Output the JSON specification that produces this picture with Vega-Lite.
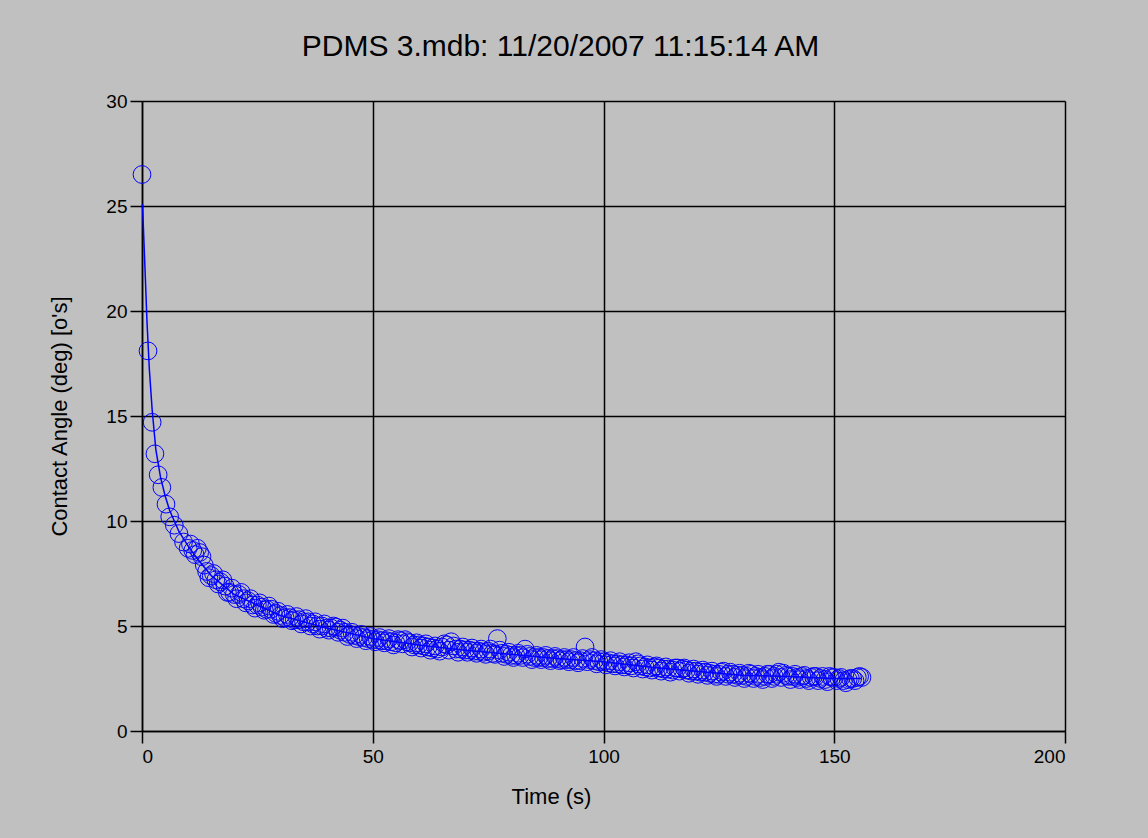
{
  "$schema": "https://vega.github.io/schema/vega-lite/v6.json",
  "width": 923,
  "height": 630,
  "autosize": "none",
  "padding": {"left": 142, "top": 101, "right": 83, "bottom": 107},
  "background": "#c0c0c0",
  "config": {
    "view": {"stroke": null, "fill": "#c0c0c0"},
    "font": "Liberation Sans",
    "axis": {
      "grid": true,
      "gridColor": "#000000",
      "gridWidth": 1.5,
      "gridOpacity": 1,
      "domainColor": "#000000",
      "domainWidth": 1.5,
      "tickColor": "#000000",
      "tickWidth": 1.5,
      "tickSize": 12,
      "labelFont": "Liberation Sans",
      "labelFontSize": 19,
      "labelColor": "#000000",
      "titleFont": "Liberation Sans",
      "titleFontSize": 22,
      "titleFontWeight": "normal",
      "titleColor": "#000000"
    }
  },
  "title": {
    "text": "PDMS 3.mdb: 11/20/2007 11:15:14 AM",
    "font": "Liberation Sans",
    "fontSize": 30,
    "fontWeight": "normal",
    "color": "#000000",
    "anchor": "middle",
    "dx": -43,
    "offset": 30
  },
  "datasets": {
    "pts": [
      {"t":0,"a":26.5},{"t":1.3,"a":18.1},{"t":2.2,"a":14.7},{"t":2.8,"a":13.2},{"t":3.5,"a":12.2},{"t":4.3,"a":11.6},{"t":5.2,"a":10.8},{"t":6,"a":10.2},{"t":7,"a":9.8},{"t":8,"a":9.4},{"t":9,"a":9.0},{"t":10,"a":8.7},{"t":11,"a":8.6},{"t":12,"a":8.7},{"t":13,"a":8.3},{"t":14,"a":7.6},{"t":15,"a":7.4},{"t":16,"a":7.2},{"t":17,"a":7.1},{"t":18,"a":6.9},{"t":19,"a":6.6},{"t":20,"a":6.5},{"t":21,"a":6.5},{"t":22,"a":6.3},{"t":23,"a":6.2},{"t":24,"a":6.0},{"t":25,"a":6.0},{"t":26,"a":5.9},{"t":27,"a":5.8},{"t":28,"a":5.8},{"t":29,"a":5.6},{"t":30,"a":5.5},{"t":31,"a":5.4},{"t":32,"a":5.4},{"t":33,"a":5.3},{"t":34,"a":5.3},{"t":35,"a":5.2},{"t":36,"a":5.2},{"t":37,"a":5.1},{"t":38,"a":5.0},{"t":39,"a":5.0},{"t":40,"a":4.9},{"t":41,"a":4.9},{"t":42,"a":4.95},{"t":43,"a":4.8},{"t":44,"a":4.7},{"t":45,"a":4.6},{"t":46,"a":4.55},{"t":47,"a":4.5},{"t":48,"a":4.45},{"t":49,"a":4.4},{"t":50,"a":4.35},{"t":51,"a":4.35},{"t":52,"a":4.3},{"t":53,"a":4.3},{"t":54,"a":4.25},{"t":55,"a":4.2},{"t":56,"a":4.3},{"t":57,"a":4.35},{"t":58,"a":4.2},{"t":59,"a":4.1},{"t":60,"a":4.1},{"t":61,"a":4.05},{"t":62,"a":4.0},{"t":63,"a":3.95},{"t":64,"a":3.9},{"t":65,"a":4.0},{"t":66,"a":4.1},{"t":67,"a":4.25},{"t":68,"a":3.9},{"t":69,"a":3.9},{"t":70,"a":3.85},{"t":71,"a":3.85},{"t":72,"a":3.8},{"t":73,"a":3.8},{"t":74,"a":3.75},{"t":75,"a":3.8},{"t":76,"a":3.7},{"t":77,"a":4.4},{"t":78,"a":3.7},{"t":79,"a":3.65},{"t":80,"a":3.6},{"t":81,"a":3.6},{"t":82,"a":3.6},{"t":83,"a":3.9},{"t":84,"a":3.55},{"t":85,"a":3.5},{"t":86,"a":3.5},{"t":87,"a":3.5},{"t":88,"a":3.45},{"t":89,"a":3.45},{"t":90,"a":3.45},{"t":91,"a":3.4},{"t":92,"a":3.4},{"t":93,"a":3.4},{"t":94,"a":3.35},{"t":95,"a":3.35},{"t":96,"a":4.0},{"t":97,"a":3.4},{"t":98,"a":3.35},{"t":99,"a":3.3},{"t":100,"a":3.3},{"t":101,"a":3.25},{"t":102,"a":3.2},{"t":103,"a":3.2},{"t":104,"a":3.15},{"t":105,"a":3.15},{"t":106,"a":3.1},{"t":107,"a":3.3},{"t":108,"a":3.1},{"t":109,"a":3.05},{"t":110,"a":3.0},{"t":111,"a":3.05},{"t":112,"a":3.0},{"t":113,"a":2.95},{"t":114,"a":2.95},{"t":115,"a":2.9},{"t":116,"a":3.0},{"t":117,"a":2.95},{"t":118,"a":2.9},{"t":119,"a":2.85},{"t":120,"a":2.85},{"t":121,"a":2.8},{"t":122,"a":2.8},{"t":123,"a":2.75},{"t":124,"a":2.7},{"t":125,"a":2.7},{"t":126,"a":2.85},{"t":127,"a":2.7},{"t":128,"a":2.7},{"t":129,"a":2.65},{"t":130,"a":2.65},{"t":131,"a":2.6},{"t":132,"a":2.7},{"t":133,"a":2.6},{"t":134,"a":2.55},{"t":135,"a":2.6},{"t":136,"a":2.7},{"t":137,"a":2.6},{"t":138,"a":2.8},{"t":139,"a":2.75},{"t":140,"a":2.6},{"t":141,"a":2.6},{"t":142,"a":2.55},{"t":143,"a":2.6},{"t":144,"a":2.5},{"t":145,"a":2.55},{"t":146,"a":2.6},{"t":147,"a":2.5},{"t":148,"a":2.45},{"t":149,"a":2.6},{"t":150,"a":2.55},{"t":151,"a":2.5},{"t":152,"a":2.4},{"t":153,"a":2.45},{"t":154,"a":2.5},{"t":155,"a":2.55},{"t":156,"a":2.55},
      {"t":10.5,"a":8.9},{"t":11.5,"a":8.4},{"t":12.5,"a":8.5},{"t":13.5,"a":7.9},{"t":14.5,"a":7.3},{"t":15.5,"a":7.5},{"t":16.5,"a":7.0},{"t":17.5,"a":7.2},{"t":18.5,"a":6.6},{"t":19.5,"a":6.8},{"t":20.5,"a":6.3},{"t":21.5,"a":6.6},{"t":22.5,"a":6.1},{"t":23.5,"a":6.3},{"t":24.5,"a":5.85},{"t":25.5,"a":6.1},{"t":26.5,"a":5.75},{"t":27.5,"a":5.95},{"t":28.5,"a":5.55},{"t":29.5,"a":5.7},{"t":30.5,"a":5.35},{"t":31.5,"a":5.55},{"t":32.5,"a":5.25},{"t":33.5,"a":5.45},{"t":34.5,"a":5.1},{"t":35.5,"a":5.35},{"t":36.5,"a":5.0},{"t":37.5,"a":5.2},{"t":38.5,"a":4.85},{"t":39.5,"a":5.1},{"t":40.5,"a":4.8},{"t":41.5,"a":5.0},{"t":42.5,"a":4.7},{"t":43.5,"a":4.9},{"t":44.5,"a":4.5},{"t":45.5,"a":4.7},{"t":46.5,"a":4.4},{"t":47.5,"a":4.6},{"t":48.5,"a":4.3},{"t":49.5,"a":4.5},{"t":50.5,"a":4.25},{"t":51.5,"a":4.45},{"t":52.5,"a":4.2},{"t":53.5,"a":4.4},{"t":54.5,"a":4.1},{"t":55.5,"a":4.35},{"t":56.5,"a":4.15},{"t":57.5,"a":4.25},{"t":58.5,"a":4.0},{"t":59.5,"a":4.2},{"t":60.5,"a":3.95},{"t":61.5,"a":4.15},{"t":62.5,"a":3.85},{"t":63.5,"a":4.05},{"t":64.5,"a":3.8},{"t":65.5,"a":4.15},{"t":66.5,"a":3.85},{"t":67.5,"a":4.05},{"t":68.5,"a":3.75},{"t":69.5,"a":4.0},{"t":70.5,"a":3.75},{"t":71.5,"a":3.95},{"t":72.5,"a":3.7},{"t":73.5,"a":3.9},{"t":74.5,"a":3.65},{"t":75.5,"a":3.9},{"t":76.5,"a":3.65},{"t":77.5,"a":3.85},{"t":78.5,"a":3.55},{"t":79.5,"a":3.75},{"t":80.5,"a":3.5},{"t":81.5,"a":3.7},{"t":82.5,"a":3.5},{"t":83.5,"a":3.65},{"t":84.5,"a":3.4},{"t":85.5,"a":3.6},{"t":86.5,"a":3.4},{"t":87.5,"a":3.6},{"t":88.5,"a":3.35},{"t":89.5,"a":3.55},{"t":90.5,"a":3.35},{"t":91.5,"a":3.5},{"t":92.5,"a":3.3},{"t":93.5,"a":3.5},{"t":94.5,"a":3.25},{"t":95.5,"a":3.45},{"t":96.5,"a":3.3},{"t":97.5,"a":3.5},{"t":98.5,"a":3.2},{"t":99.5,"a":3.4},{"t":100.5,"a":3.15},{"t":101.5,"a":3.35},{"t":102.5,"a":3.1},{"t":103.5,"a":3.3},{"t":104.5,"a":3.05},{"t":105.5,"a":3.25},{"t":106.5,"a":3.0},{"t":107.5,"a":3.2},{"t":108.5,"a":2.95},{"t":109.5,"a":3.15},{"t":110.5,"a":2.9},{"t":111.5,"a":3.1},{"t":112.5,"a":2.85},{"t":113.5,"a":3.05},{"t":114.5,"a":2.8},{"t":115.5,"a":3.0},{"t":116.5,"a":2.85},{"t":117.5,"a":3.0},{"t":118.5,"a":2.75},{"t":119.5,"a":2.95},{"t":120.5,"a":2.7},{"t":121.5,"a":2.9},{"t":122.5,"a":2.65},{"t":123.5,"a":2.85},{"t":124.5,"a":2.6},{"t":125.5,"a":2.8},{"t":126.5,"a":2.6},{"t":127.5,"a":2.8},{"t":128.5,"a":2.55},{"t":129.5,"a":2.75},{"t":130.5,"a":2.5},{"t":131.5,"a":2.75},{"t":132.5,"a":2.5},{"t":133.5,"a":2.7},{"t":134.5,"a":2.45},{"t":135.5,"a":2.7},{"t":136.5,"a":2.5},{"t":137.5,"a":2.7},{"t":138.5,"a":2.55},{"t":139.5,"a":2.65},{"t":140.5,"a":2.45},{"t":141.5,"a":2.7},{"t":142.5,"a":2.45},{"t":143.5,"a":2.65},{"t":144.5,"a":2.4},{"t":145.5,"a":2.6},{"t":146.5,"a":2.4},{"t":147.5,"a":2.6},{"t":148.5,"a":2.35},{"t":149.5,"a":2.55},{"t":150.5,"a":2.4},{"t":151.5,"a":2.55},{"t":152.5,"a":2.3},{"t":153.5,"a":2.5},{"t":154.5,"a":2.4},{"t":155.5,"a":2.6}
    ],
    "fit": [
      {"t":0.1,"a":25.1},{"t":0.6,"a":22.3},{"t":1.1,"a":19.4},{"t":1.6,"a":17.2},{"t":2.2,"a":15.3},{"t":3,"a":13.4},{"t":4,"a":12.1},{"t":5,"a":11.2},{"t":6,"a":10.5},{"t":8,"a":9.5},{"t":10,"a":8.8},{"t":12,"a":8.2},{"t":15,"a":7.4},{"t":20,"a":6.5},{"t":25,"a":6.0},{"t":30,"a":5.5},{"t":40,"a":4.9},{"t":50,"a":4.4},{"t":60,"a":4.1},{"t":70,"a":3.85},{"t":80,"a":3.65},{"t":90,"a":3.45},{"t":100,"a":3.3},{"t":110,"a":3.05},{"t":120,"a":2.85},{"t":130,"a":2.65},{"t":140,"a":2.6},{"t":150,"a":2.5},{"t":156,"a":2.5}
    ]
  },
  "layer": [
    {
      "data": {"name": "fit"},
      "mark": {"type": "line", "color": "#0000ff", "strokeWidth": 1.5},
      "encoding": {
        "x": {"field": "t", "type": "quantitative"},
        "y": {"field": "a", "type": "quantitative"}
      }
    },
    {
      "data": {"name": "pts"},
      "mark": {"type": "point", "shape": "circle", "filled": false, "color": "#0000ff", "strokeWidth": 1, "size": 314, "opacity": 1},
      "encoding": {
        "x": {
          "field": "t", "type": "quantitative",
          "scale": {"domain": [0, 200], "nice": false, "zero": false},
          "axis": {"values": [0, 50, 100, 150, 200], "title": "Time (s)", "labelPadding": 4, "titlePadding": 20, "titleX": 409}
        },
        "y": {
          "field": "a", "type": "quantitative",
          "scale": {"domain": [0, 30], "nice": false},
          "axis": {"values": [0, 5, 10, 15, 20, 25, 30], "title": "Contact Angle (deg) [o's]", "labelPadding": 3, "titlePadding": 34}
        }
      }
    }
  ]
}
